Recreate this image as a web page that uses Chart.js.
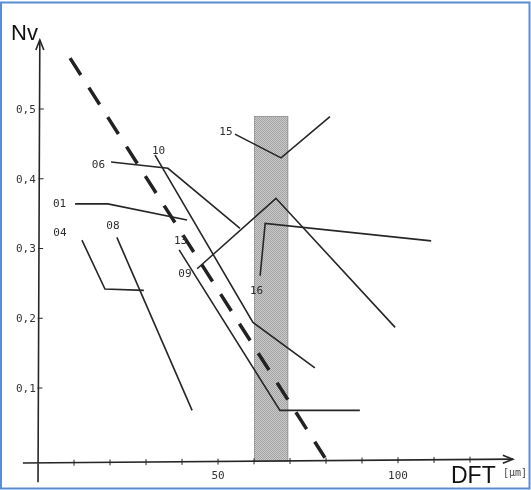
<!DOCTYPE html>
<html lang="en">
<head>
    <meta charset="UTF-8">
    <title>Nv vs DFT</title>
    <script src="https://cdn.jsdelivr.net/npm/chart.js"></script>
    <style>
        body { margin: 0; background: #fff; }
        #wrap { position: relative; width: 531px; height: 490px; }
        canvas { display: block; }
    </style>
</head>
<body>
    <div id="wrap">
        <canvas id="nvChart" width="531" height="490"></canvas>
    </div>

    <script>
        // Curves: DFT [µm] and Nv for each sample
        const dft01 = [10.3, 19.4, 41.4];  const nv01 = [0.364, 0.364, 0.341];
        const dft04 = [12.2, 18.6, 29.4];  const nv04 = [0.312, 0.242, 0.240];
        const dft06 = [20.3, 36.1, 56.1];  const nv06 = [0.424, 0.415, 0.329];
        const dft08 = [21.9, 42.8];        const nv08 = [0.316, 0.068];
        const dft09 = [44.2, 66.1, 99.2];  const nv09 = [0.271, 0.372, 0.187];
        const dft10 = [32.5, 59.7, 76.9];  const nv10 = [0.434, 0.194, 0.129];
        const dft13 = [39.2, 67.2, 89.4];  const nv13 = [0.298, 0.068, 0.068];
        const dft15 = [54.7, 67.5, 81.1];  const nv15 = [0.464, 0.430, 0.489];
        const dft16 = [61.7, 63.1, 109.2]; const nv16 = [0.261, 0.336, 0.311];

        // dashed trend line
        const trendDft = [8.9, 79.7];
        const trendNv = [0.573, 0.0];

        // shaded band
        const bandDft = [60, 69.5];
        const bandNv = [0, 0.49];

        // curve labels and where they sit
        const curveNames = ['01', '04', '06', '08', '09', '10', '13', '15', '16'];
        const labelDft = [6.0, 6.1, 16.8, 20.8, 40.8, 33.5, 39.6, 52.2, 60.7];
        const labelNv = [0.364, 0.322, 0.420, 0.332, 0.263, 0.440, 0.311, 0.467, 0.239];

        // axis ticks
        const xTicks = [10, 20, 30, 40, 50, 60, 70, 80, 90, 100, 110, 120];
        const xTickLabels = [50, 100];
        const yTicks = [0.1, 0.2, 0.3, 0.4, 0.5];
        const yTickLabels = ['0,1', '0,2', '0,3', '0,4', '0,5'];

        const toPoints = (xs, ys) => xs.map((v, i) => ({ x: v, y: ys[i] }));
        const ink = '#262626';
        const curve = (xs, ys) => ({
            data: toPoints(xs, ys),
            showLine: true,
            borderColor: ink,
            borderWidth: 1.6,
            pointRadius: 0,
            tension: 0
        });

        const mono = "'DejaVu Sans Mono', monospace";

        const decor = {
            id: 'decor',
            beforeDatasetsDraw(chart) {
                const { ctx, scales: { x, y } } = chart;
                // stippled band (checker dots so it reads as even grey)
                const pc = document.createElement('canvas');
                pc.width = 2; pc.height = 2;
                const p = pc.getContext('2d');
                p.fillStyle = '#cbcbcb';
                p.fillRect(0, 0, 2, 2);
                p.fillStyle = '#a2a2a2';
                p.fillRect(0, 0, 1, 1);
                p.fillRect(1, 1, 1, 1);
                const x0 = x.getPixelForValue(bandDft[0]);
                const x1 = x.getPixelForValue(bandDft[1]);
                const y0 = y.getPixelForValue(bandNv[1]);
                const y1 = y.getPixelForValue(bandNv[0]) + 3;
                ctx.save();
                ctx.fillStyle = ctx.createPattern(pc, 'repeat');
                ctx.fillRect(x0, y0, x1 - x0, y1 - y0);
                ctx.strokeStyle = '#9a9a9a';
                ctx.lineWidth = 1;
                ctx.strokeRect(x0 + 0.5, y0 + 0.5, x1 - x0 - 1, y1 - y0);
                ctx.restore();
            },
            afterDatasetsDraw(chart) {
                const { ctx, scales: { x, y } } = chart;
                const X = v => x.getPixelForValue(v);
                const Y = v => y.getPixelForValue(v);
                ctx.save();
                ctx.strokeStyle = ink;
                ctx.fillStyle = ink;
                ctx.lineWidth = 1.6;

                // axes (scan is slightly tilted)
                ctx.beginPath();
                ctx.moveTo(X(-4.2), Y(-0.0075));
                ctx.lineTo(X(131.9), Y(-0.002));
                ctx.moveTo(X(0), Y(-0.035));
                ctx.lineTo(X(0.5), Y(0.599));
                ctx.stroke();
                // arrow heads
                ctx.beginPath();
                ctx.moveTo(X(0.5) - 4, Y(0.599) + 10);
                ctx.lineTo(X(0.5), Y(0.599));
                ctx.lineTo(X(0.5) + 4, Y(0.599) + 10);
                ctx.moveTo(X(131.9) - 10, Y(-0.002) - 4);
                ctx.lineTo(X(131.9), Y(-0.002));
                ctx.lineTo(X(131.9) - 10, Y(-0.002) + 4);
                ctx.stroke();

                // tick marks
                ctx.lineWidth = 1;
                ctx.beginPath();
                xTicks.forEach(t => {
                    const yy = Y(-0.0075 + t * 0.00004);
                    ctx.moveTo(X(t), yy - 3);
                    ctx.lineTo(X(t), yy + 3);
                });
                yTicks.forEach(t => {
                    const xx = X(t * 1.0);
                    ctx.moveTo(xx - 1, Y(t));
                    ctx.lineTo(xx + 4, Y(t));
                });
                ctx.stroke();

                // tick labels
                ctx.font = '11px ' + mono;
                ctx.fillStyle = '#333';
                ctx.textAlign = 'right';
                ctx.textBaseline = 'middle';
                yTicks.forEach((t, i) => ctx.fillText(yTickLabels[i], X(-0.6), Y(t) + 1));
                ctx.textAlign = 'center';
                xTickLabels.forEach(t => ctx.fillText(String(t), X(t), Y(-0.026)));

                // curve labels
                ctx.fillStyle = '#2e2e2e';
                curveNames.forEach((n, i) => ctx.fillText(n, X(labelDft[i]), Y(labelNv[i])));

                // axis titles
                ctx.fillStyle = '#111';
                ctx.font = "22px 'Liberation Sans', Arial, sans-serif";
                ctx.textAlign = 'left';
                ctx.textBaseline = 'alphabetic';
                ctx.fillText('Nv', 11, 40);
                ctx.font = "23px 'Liberation Sans', Arial, sans-serif";
                ctx.fillText('DFT', 451, 483);
                ctx.font = '10px ' + mono;
                ctx.fillStyle = '#444';
                ctx.fillText('[\u00b5m]', 503, 476);

                // frame
                ctx.strokeStyle = '#5b8dd3';
                ctx.lineWidth = 2;
                ctx.strokeRect(1, 2.5, 528.5, 486);
                ctx.restore();
            }
        };

        new Chart(document.getElementById('nvChart'), {
            type: 'scatter',
            data: {
                datasets: [
                    curve(dft01, nv01),
                    curve(dft04, nv04),
                    curve(dft06, nv06),
                    curve(dft08, nv08),
                    curve(dft09, nv09),
                    curve(dft10, nv10),
                    curve(dft13, nv13),
                    curve(dft15, nv15),
                    curve(dft16, nv16),
                    {
                        data: toPoints(trendDft, trendNv),
                        showLine: true,
                        borderColor: '#222',
                        borderWidth: 3.5,
                        borderDash: [20, 15],
                        pointRadius: 0
                    }
                ]
            },
            options: {
                responsive: false,
                animation: false,
                layout: { padding: 0 },
                plugins: { legend: { display: false }, tooltip: { enabled: false } },
                scales: {
                    x: { type: 'linear', min: -10.56, max: 136.94, display: false },
                    y: { type: 'linear', min: -0.0462, max: 0.6563, display: false }
                }
            },
            plugins: [decor]
        });
    </script>
</body>
</html>
